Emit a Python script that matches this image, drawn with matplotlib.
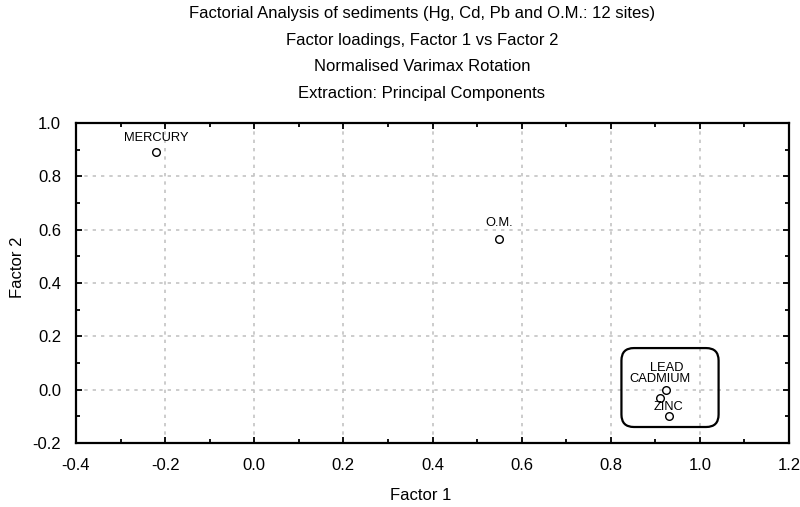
import numpy as np
import matplotlib
matplotlib.use("Agg")
import matplotlib.pyplot as plt
from matplotlib.patches import FancyBboxPatch

plt.rcParams['font.family'] = ['Liberation Sans', 'DejaVu Sans']

# factor loadings
names = ['MERCURY', 'O.M.', 'LEAD', 'CADMIUM', 'ZINC']
factor1 = [-0.22, 0.55, 0.925, 0.91, 0.93]
factor2 = [0.89, 0.565, 0.0, -0.03, -0.10]

titles = ['Factorial Analysis of sediments (Hg, Cd, Pb and O.M.: 12 sites)',
          'Factor loadings, Factor 1 vs Factor 2',
          'Normalised Varimax Rotation',
          'Extraction: Principal Components']

# label offsets above each point, pixels
label_dy = [14, 16, 22, 19, 9]

# box around the metal cluster (data units)
box_x = [0.824, 1.042]
box_y = [-0.14, 0.156]

fs = 12
fig = plt.figure(figsize=(8, 5.07), dpi=100)
ax = fig.add_axes([76/800, 1-443/507, (789-76)/800, (443-123)/507])

ax.plot(factor1, factor2, 'o', mfc='white', mec='black', ms=5.5, mew=1.0, zorder=3)
for n, x, y, dy in zip(names, factor1, factor2, label_dy):
    ax.annotate(n, (x, y), xytext=(0, dy), textcoords='offset pixels',
                ha='center', va='center', fontsize=9.3, zorder=4)

ax.set_xlim(-0.4, 1.2)
ax.set_ylim(-0.2, 1.0)
ax.set_xticks(np.arange(-0.4, 1.21, 0.2))
ax.set_yticks(np.arange(-0.2, 1.01, 0.2))
ax.set_xticks(np.arange(-0.4, 1.21, 0.1), minor=True)
ax.set_yticks(np.arange(-0.2, 1.01, 0.1), minor=True)
ax.set_xticklabels(['%.1f' % v for v in np.arange(-0.4, 1.21, 0.2)])
ax.set_yticklabels(['%.1f' % v for v in np.arange(-0.2, 1.01, 0.2)])
ax.tick_params(which='both', direction='in', top=True, right=True, width=1.3, labelsize=fs)
ax.tick_params(which='major', length=4, pad=10.7)
ax.tick_params(which='minor', length=3)
for s in ax.spines.values():
    s.set_linewidth(1.6)
ax.grid(True, which='major', color='#c4c4c4', linestyle=(0, (2, 3)), linewidth=1.2)
ax.set_axisbelow(True)

# rounded box, corners kept round in pixel space
aspect = (1.2 / 320) / (1.6 / 713)
ax.add_patch(FancyBboxPatch((box_x[0], box_y[0]), box_x[1]-box_x[0], box_y[1]-box_y[0],
                            boxstyle='round,pad=0,rounding_size=0.028',
                            mutation_aspect=aspect, fill=False, ec='black', lw=1.6, zorder=2))

ax.set_xlabel('Factor 1', fontsize=fs, va='center')
ax.xaxis.set_label_coords((421-76)/713, -52/320)
ax.set_ylabel('Factor 2', fontsize=fs, va='center')
ax.yaxis.set_label_coords(-58/713, 0.55)

for i, t in enumerate(titles):
    fig.text(422/800, 1 - (13.5 + 26.7*i)/507, t, ha='center', va='center', fontsize=fs)

fig.savefig('out.png', dpi=100)
